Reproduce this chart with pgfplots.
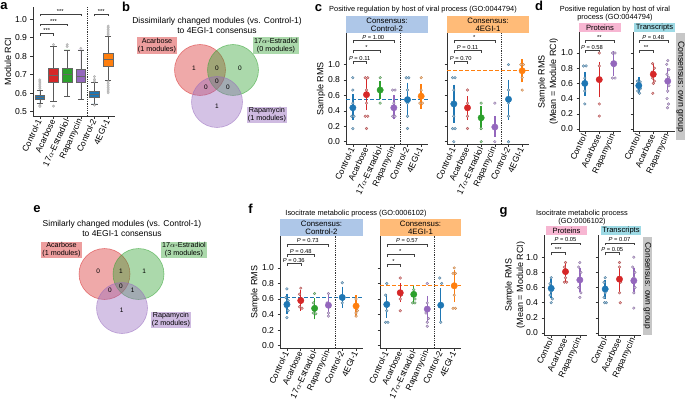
\documentclass[border=0pt]{standalone}
\usepackage{fontspec}
\setmainfont{Liberation Sans}
\usepackage{pgfplots}
\pgfplotsset{compat=1.18}
\usepgfplotslibrary{statistics}

\definecolor{cb}{HTML}{1F77B4}
\definecolor{cr}{HTML}{D62728}
\definecolor{cg}{HTML}{2CA02C}
\definecolor{cp}{HTML}{9467BD}
\definecolor{co}{HTML}{FF7F0E}
\definecolor{hblue}{HTML}{AEC7E8}
\definecolor{horange}{HTML}{FFBB78}
\definecolor{hpink}{HTML}{F7B6D2}
\definecolor{hcyan}{HTML}{9EDAE5}
\definecolor{hgray}{HTML}{C7C7C7}

\newcommand{\fsz}[2]{\fontsize{#1pt}{#2pt}\selectfont}
\newcommand{\pv}[1]{\textit{P} = #1}
\def\leg{0.035}

% jittered samples of one group
\newcommand{\pts}[2]{\addplot[only marks, mark=*, mark size=1.35pt,
  mark options={draw=#1!50!gray, fill=#1!40!white, line width=0.35pt}] coordinates {#2};}
% mean with confidence interval: colour, x, mean, plus, minus
\newcommand{\mci}[5]{\addplot[only marks, color=#1, mark=*, mark size=3.2pt,
  error bars/.cd, y dir=both, y explicit,
  error bar style={line width=1.4pt, #1},
  error mark options={line width=1.4pt, mark size=5.5pt, #1}]
  coordinates {(#2,#3) += (0,#4) -= (0,#5)};}
% significance bracket
\newcommand{\brk}[4]{%
  \draw[black!75, line width=0.5pt] (axis cs:#1,{#3-\leg}) -- (axis cs:#1,#3)
    -- (axis cs:#2,#3) -- (axis cs:#2,{#3-\leg});
  \node[font=\fsz{5.8}{6}, inner sep=0.6pt, anchor=south] at (axis cs:{0.5*(#1+#2)},#3) {#4};}

\pgfplotsset{
  panel/.style={
    scale only axis, anchor=south west, clip=false,
    axis lines=left, axis line style={-, line width=0.6pt, black!80},
    tick align=outside, major tick length=2.5pt,
    tick style={line width=0.6pt, black!80},
    ticklabel style={font=\fsz{8.6}{9}},
    /pgf/number format/assume math mode=true,
    yticklabel style={/pgf/number format/.cd, fixed, fixed zerofill, precision=1},
    xticklabel style={rotate=65, anchor=east, font=\fsz{8.5}{9}, inner sep=1.2pt},
  },
  rms/.style={panel, ytick={0,0.2,0.4,0.6,0.8,1}},
  six/.style={xmin=-0.5, xmax=5.5, xtick={0,1,2,3,4,5},
    xticklabels={Control-1,Acarbose,17$\alpha$-Estradiol,Rapamycin,Control-2,4EGI-1}},
  three/.style={xtick={0,1,2}, xticklabels={Control,Acarbose,Rapamycin}},
  bx/.style={draw=black!60, line width=0.6pt, solid, fill=#1,
    boxplot/draw direction=y,
    boxplot/every box/.style={draw=black!60, fill=#1},
    boxplot/every whisker/.style={draw=black!65},
    boxplot/every median/.style={draw=black!60, line width=0.8pt}},
}

\begin{document}
\begin{tikzpicture}
\path[use as bounding box] (0pt,0pt) rectangle (685pt,400pt);

% ---------------- a
\def\leg{0.014}
\begin{axis}[panel, six, at={(33pt,284pt)}, width=82pt, height=109pt,
  ymin=0.477, ymax=1.065, ytick={0.5,0.6,0.7,0.8,0.9,1.0}]
\addplot[black!80, densely dotted, line width=0.8pt] coordinates {(3.5,0.477)(3.5,1.065)};
\addplot[bx=cb, boxplot prepared={draw position=0, lower whisker=0.545, lower quartile=0.567,
  median=0.578, upper quartile=0.59, upper whisker=0.617, box extend=0.72, whisker extend=0.45}] coordinates {};
\addplot[bx=cr, boxplot prepared={draw position=1, lower whisker=0.554, lower quartile=0.657,
  median=0.695, upper quartile=0.735, upper whisker=0.851, box extend=0.72, whisker extend=0.45}] coordinates {};
\addplot[bx=cg, boxplot prepared={draw position=2, lower whisker=0.581, lower quartile=0.66,
  median=0.70, upper quartile=0.735, upper whisker=0.834, box extend=0.72, whisker extend=0.45}] coordinates {};
\addplot[bx=cp, boxplot prepared={draw position=3, lower whisker=0.567, lower quartile=0.657,
  median=0.692, upper quartile=0.728, upper whisker=0.834, box extend=0.72, whisker extend=0.45}] coordinates {};
\addplot[bx=cb, boxplot prepared={draw position=4, lower whisker=0.542, lower quartile=0.58,
  median=0.596, upper quartile=0.608, upper whisker=0.657, box extend=0.72, whisker extend=0.45}] coordinates {};
\addplot[bx=co, boxplot prepared={draw position=5, lower whisker=0.671, lower quartile=0.743,
  median=0.783, upper quartile=0.815, upper whisker=0.905, box extend=0.72, whisker extend=0.45}] coordinates {};
\addplot[only marks, mark=*, mark size=1.2pt, mark options={draw=black!30, fill=black!20}] coordinates {
  (0,0.625)(0,0.635)(0,0.645)(0,0.655)(0,0.665)(0,0.672)(0,0.535)(0,0.528)
  (1,0.862)(1,0.53)(2,0.862)(2,0.852)(3,0.842)
  (4,0.665)(4,0.675)(4,0.69)(4,0.535)
  (5,0.915)(5,0.925)(5,0.935)(5,0.945)(5,0.955)(5,0.962)
  (5,0.662)(5,0.652)(5,0.642)(5,0.632)(5,0.622)(5,0.612)(5,0.602)};
\brk{0}{1}{0.924}{***}
\brk{0}{2}{0.974}{***}
\brk{0}{3}{1.028}{***}
\brk{4}{5}{1.028}{***}
\end{axis}
\def\leg{0.035}

% ---------------- c left
\begin{axis}[rms, six, at={(346pt,256pt)}, width=82pt, height=111pt, ymin=-0.03, ymax=1.41]
\addplot[cb, line width=1.2pt, dash pattern=on 4pt off 2pt] coordinates {(-0.5,0.545)(5.5,0.545)};
\addplot[black!80, densely dotted, line width=0.8pt] coordinates {(3.5,-0.03)(3.5,1.41)};
\pts{cb}{(0,0.83)(0,0.67)(0,0.5)(-0.09,0.33)(0.09,0.33)(0,0.17)}
\mci{cb}{0}{0.44}{0.105}{0.09}
\pts{cr}{(0.91,0.83)(1.09,0.83)(1,0.67)(1,0.5)(0.91,0.33)(1.09,0.33)(1,0.17)}
\mci{cr}{1}{0.61}{0.13}{0.13}
\pts{cg}{(2,0.83)(1.91,0.67)(2.09,0.67)(2,0.5)}
\mci{cg}{2}{0.67}{0.05}{0.05}
\pts{cp}{(2.91,0.67)(3.09,0.67)(3,0.5)(2.91,0.33)(3.09,0.33)}
\mci{cp}{3}{0.44}{0.09}{0.08}
\pts{cb}{(3.91,0.83)(4.09,0.83)(4,0.67)(4,0.5)(4,0.33)(4,0.17)}
\mci{cb}{4}{0.545}{0.15}{0.165}
\pts{co}{(5,0.83)(5,0.67)(4.91,0.5)(5.09,0.5)}
\mci{co}{5}{0.59}{0.085}{0.09}
\brk{0}{1}{1.04}{\pv{0.11}}
\brk{0}{2}{1.18}{*}
\brk{0}{3}{1.31}{\pv{1.00}}
\end{axis}

% ---------------- c right
\begin{axis}[rms, six, at={(447pt,256pt)}, width=82pt, height=111pt, ymin=-0.03, ymax=1.41, yticklabels={}]
\addplot[co, line width=1.2pt, dash pattern=on 4pt off 2pt] coordinates {(-0.5,0.92)(5.5,0.92)};
\addplot[black!80, densely dotted, line width=0.8pt] coordinates {(3.5,-0.03)(3.5,1.41)};
\pts{cb}{(-0.09,0.83)(0.09,0.83)(0,0.67)(0,0.5)(0,0.33)(-0.09,0.17)(0.09,0.17)(0,0)}
\mci{cb}{0}{0.49}{0.18}{0.17}
\pts{cr}{(1,0.67)(1,0.5)(1,0.33)(1,0.17)}
\mci{cr}{1}{0.44}{0.08}{0.09}
\pts{cg}{(2,0.5)(2,0.33)(2,0.17)(2,0)}
\mci{cg}{2}{0.31}{0.08}{0.09}
\pts{cp}{(3,0.5)(3,0.17)(3,0)}
\mci{cp}{3}{0.19}{0.07}{0.06}
\pts{cb}{(4,1.0)(4,0.67)(4,0.5)(4,0.33)(4,0)}
\mci{cb}{4}{0.55}{0.18}{0.2}
\pts{co}{(4.91,1.0)(5.09,1.0)(5,0.83)(5,0.67)}
\mci{co}{5}{0.92}{0.08}{0.08}
\brk{0}{1}{1.04}{\pv{0.70}}
\brk{0}{2}{1.18}{\pv{0.11}}
\brk{0}{3}{1.31}{*}
\end{axis}

% ---------------- d proteins
\begin{axis}[rms, three, at={(579pt,269pt)}, width=42pt, height=99pt,
  xmin=-0.4, xmax=2.5, ymin=-0.026, ymax=1.276]
\pts{cb}{(-0.09,0.83)(0.09,0.83)(0,0.67)(0,0.5)(0,0.33)}
\mci{cb}{0}{0.6}{0.08}{0.09}
\pts{cr}{(1,1.0)(1,0.83)(1,0.67)(1,0.33)(1,0.17)}
\mci{cr}{1}{0.65}{0.16}{0.16}
\pts{cp}{(1.91,1.0)(2.09,1.0)(2,0.83)(1.91,0.67)(2.09,0.67)}
\mci{cp}{2}{0.86}{0.09}{0.09}
\brk{0}{1}{1.04}{\pv{0.58}}
\brk{0}{2}{1.17}{**}
\end{axis}

% ---------------- d transcripts
\begin{axis}[rms, three, at={(633pt,269pt)}, width=42pt, height=99pt,
  xmin=-0.4, xmax=2.5, ymin=-0.026, ymax=1.276, yticklabels={}]
\pts{cb}{(-0.1,0.63)(0.1,0.62)(-0.05,0.6)(0.08,0.58)(-0.1,0.57)(0,0.55)(0.1,0.53)(-0.07,0.5)(0.05,0.47)}
\mci{cb}{0}{0.57}{0.04}{0.04}
\pts{cr}{(0.95,0.86)(1.08,0.8)(0.92,0.75)(1.05,0.7)(0.95,0.67)(1.08,0.63)(1,0.6)(0.97,0.47)}
\mci{cr}{1}{0.72}{0.07}{0.07}
\pts{cp}{(2,0.9)(1.93,0.85)(2.08,0.78)(1.95,0.72)(2.05,0.68)(1.92,0.62)(2.08,0.57)(2,0.5)(1.95,0.4)(2.05,0.33)(1.98,0.28)}
\mci{cp}{2}{0.63}{0.1}{0.09}
\brk{0}{1}{1.04}{**}
\brk{0}{2}{1.17}{\pv{0.48}}
\end{axis}

% ---------------- f left
\begin{axis}[rms, six, at={(280pt,52pt)}, width=83pt, height=112pt, ymin=-0.03, ymax=1.41]
\addplot[cb, line width=1.2pt, dash pattern=on 4pt off 2pt] coordinates {(-0.5,0.62)(5.5,0.62)};
\addplot[black!80, densely dotted, line width=0.8pt] coordinates {(3.5,-0.03)(3.5,1.41)};
\pts{cb}{(0,0.73)(-0.09,0.62)(0.09,0.58)(0,0.55)(-0.09,0.5)(0.09,0.45)(0,0.36)}
\mci{cb}{0}{0.53}{0.07}{0.05}
\pts{cr}{(1,0.74)(0.91,0.66)(1.09,0.6)(1,0.55)(0.91,0.5)(1.09,0.48)}
\mci{cr}{1}{0.58}{0.06}{0.06}
\pts{cg}{(2,0.67)(1.91,0.55)(2.09,0.5)(2,0.45)(1.91,0.42)(2.09,0.41)}
\mci{cg}{2}{0.48}{0.06}{0.07}
\pts{cp}{(3,0.67)(2.91,0.55)(3.09,0.5)(3,0.42)(3,0.38)}
\mci{cp}{3}{0.52}{0.06}{0.07}
\pts{cb}{(4,0.81)(3.91,0.64)(4.09,0.6)(4,0.55)}
\mci{cb}{4}{0.62}{0.07}{0.06}
\pts{co}{(5,0.6)(4.91,0.52)(5.09,0.45)(5,0.42)(5,0.38)}
\mci{co}{5}{0.51}{0.07}{0.07}
\brk{0}{1}{1.06}{\pv{0.36}}
\brk{0}{2}{1.18}{\pv{0.48}}
\brk{0}{3}{1.31}{\pv{0.73}}
\end{axis}

% ---------------- f right
\begin{axis}[rms, six, at={(380pt,52pt)}, width=81pt, height=112pt, ymin=-0.03, ymax=1.41, yticklabels={}]
\addplot[co, line width=1.2pt, dash pattern=on 4pt off 2pt] coordinates {(-0.5,0.77)(5.5,0.77)};
\addplot[black!80, densely dotted, line width=0.8pt] coordinates {(3.5,-0.03)(3.5,1.41)};
\pts{cb}{(0,0.8)(-0.09,0.65)(0.09,0.55)(0,0.5)(0,0.45)(-0.09,0.3)(0.09,0.3)}
\mci{cb}{0}{0.53}{0.07}{0.1}
\pts{cr}{(1,0.87)(0.91,0.7)(1.09,0.65)(1,0.6)(1,0.45)}
\mci{cr}{1}{0.68}{0.05}{0.05}
\pts{cg}{(2,0.72)(1.91,0.65)(2.09,0.6)(1.91,0.55)(2.09,0.55)}
\mci{cg}{2}{0.66}{0.04}{0.05}
\pts{cp}{(3,0.8)(3,0.55)(2.91,0.42)(3.09,0.35)(3,0.3)(3,0.25)}
\mci{cp}{3}{0.47}{0.1}{0.1}
\pts{cb}{(3.93,0.87)(4.07,0.8)(4,0.3)}
\mci{cb}{4}{0.52}{0.15}{0.14}
\pts{co}{(5,1.0)(4.91,0.93)(5.09,0.93)(5,0.65)(4.91,0.48)(5.09,0.48)}
\mci{co}{5}{0.77}{0.13}{0.14}
\brk{0}{1}{1.05}{*}
\brk{0}{2}{1.18}{*}
\brk{0}{3}{1.31}{\pv{0.57}}
\end{axis}

% ---------------- g proteins
\begin{axis}[rms, three, at={(544pt,65pt)}, width=43pt, height=100pt,
  xmin=-0.5, xmax=2.5, ymin=-0.026, ymax=1.293]
\pts{cb}{(0,0.73)(-0.08,0.65)(0.08,0.6)(0,0.55)(-0.08,0.5)(0.08,0.45)(0,0.4)}
\mci{cb}{0}{0.59}{0.05}{0.06}
\pts{cr}{(1,0.93)(0.92,0.87)(1.08,0.8)(1,0.73)(0.92,0.67)(1.08,0.67)}
\mci{cr}{1}{0.81}{0.05}{0.06}
\pts{cp}{(2,0.93)(1.92,0.87)(2.08,0.8)(2,0.73)(1.92,0.6)(2.08,0.53)(2,0.47)}
\mci{cp}{2}{0.7}{0.08}{0.08}
\brk{0}{1}{1.06}{***}
\brk{0}{2}{1.19}{\pv{0.05}}
\end{axis}

% ---------------- g transcripts
\begin{axis}[rms, three, at={(598pt,65pt)}, width=43pt, height=100pt,
  xmin=-0.5, xmax=2.5, ymin=-0.026, ymax=1.293, yticklabels={}]
\pts{cb}{(0,0.73)(-0.08,0.67)(0.08,0.6)(0,0.53)(-0.08,0.47)(0.08,0.4)(-0.04,0.4)}
\mci{cb}{0}{0.58}{0.05}{0.06}
\pts{cr}{(1,0.93)(1,0.87)(0.92,0.73)(1.08,0.67)(1,0.53)(1.05,0.4)}
\mci{cr}{1}{0.71}{0.08}{0.1}
\pts{cp}{(2,1.0)(1.92,0.87)(2.08,0.8)(2,0.73)(1.92,0.67)(2.08,0.6)(2,0.53)(2,0.33)}
\mci{cp}{2}{0.69}{0.1}{0.1}
\brk{0}{1}{1.06}{\pv{0.05}}
\brk{0}{2}{1.19}{\pv{0.07}}
\end{axis}

% ---------------- Venn diagrams b and e
\begin{axis}[scale only axis, hide axis, at={(0pt,0pt)}, anchor=south west,
  width=685pt, height=400pt, xmin=0, xmax=685, ymin=0, ymax=400, clip=false]
\addplot[only marks, mark=*, mark size=25.5pt,
  mark options={draw=cr, fill=cr, fill opacity=0.4, draw opacity=0.55, line width=0.6pt}]
  coordinates {(200,330)(104.5,126)};
\addplot[only marks, mark=*, mark size=25.5pt,
  mark options={draw=cg, fill=cg, fill opacity=0.4, draw opacity=0.55, line width=0.6pt}]
  coordinates {(233,330)(138.5,126)};
\addplot[only marks, mark=*, mark size=25.5pt,
  mark options={draw=cp, fill=cp, fill opacity=0.4, draw opacity=0.55, line width=0.6pt}]
  coordinates {(217,298)(122,92)};
\end{axis}

% headers and side strips
\fill[hblue] (346pt,367pt) rectangle (428pt,384pt);
\node[font=\fsz{7.8}{8.3}, align=center] at (387pt,375.5pt) {Consensus:\\Control-2};
\fill[horange] (447pt,367pt) rectangle (529pt,384pt);
\node[font=\fsz{7.8}{8.3}, align=center] at (488pt,375.5pt) {Consensus:\\4EGI-1};
\fill[hblue] (280pt,164pt) rectangle (363pt,181pt);
\node[font=\fsz{7.8}{8.3}, align=center] at (321.5pt,172.5pt) {Consensus:\\Control-2};
\fill[horange] (380pt,164pt) rectangle (461pt,181pt);
\node[font=\fsz{7.8}{8.3}, align=center] at (420.5pt,172.5pt) {Consensus:\\4EGI-1};
\fill[hpink] (579pt,368pt) rectangle (621pt,377pt);
\node[font=\fsz{7.6}{8}, inner sep=0pt] at (600pt,372.5pt) {Proteins};
\fill[hcyan] (634pt,368pt) rectangle (675pt,377pt);
\node[font=\fsz{7.6}{8}, inner sep=0pt] at (654.5pt,372.5pt) {Transcripts};
\fill[hpink] (546pt,165pt) rectangle (587pt,174pt);
\node[font=\fsz{7.6}{8}, inner sep=0pt] at (566.5pt,169.5pt) {Proteins};
\fill[hcyan] (601pt,165pt) rectangle (641pt,174pt);
\node[font=\fsz{7.6}{8}, inner sep=0pt] at (621pt,169.5pt) {Transcripts};
\fill[hgray] (676pt,260pt) rectangle (685pt,367pt);
\node[font=\fsz{8.8}{9}, rotate=-90, inner sep=0pt] at (680.5pt,313.5pt) {Consensus: own group};
\fill[hgray] (643pt,65pt) rectangle (652pt,163pt);
\node[font=\fsz{8.4}{9}, rotate=-90, inner sep=0pt] at (647.5pt,114pt) {Consensus: own group};

% titles
\node[font=\fsz{8.5}{9.5}, align=center] at (217pt,374.5pt)
  {Dissimilarly changed modules (vs. Control-1)\\to 4EGI-1 consensus};
\node[font=\fsz{8.5}{9.5}, align=center] at (122pt,171.3pt)
  {Similarly changed modules (vs. Control-1)\\to 4EGI-1 consensus};
\node[font=\fsz{7.4}{8}] at (423pt,390pt) {Positive regulation by host of viral process (GO:0044794)};
\node[font=\fsz{7.4}{8}, align=center] at (615pt,386pt) {Positive regulation by host of viral\\process (GO:0044794)};
\node[font=\fsz{7.4}{8}] at (356pt,186pt) {Isocitrate metabolic process (GO:0006102)};
\node[font=\fsz{7.4}{8}, align=center] at (582pt,182pt) {Isocitrate metabolic process\\(GO:0006102)};

% y labels
\node[font=\fsz{9}{10}, rotate=90] at (8pt,338.5pt) {Module RCI};
\node[font=\fsz{9}{10}, rotate=90] at (321pt,311.5pt) {Sample RMS};
\node[font=\fsz{9}{10}, rotate=90] at (255pt,108pt) {Sample RMS};
\node[font=\fsz{9}{11.5}, rotate=90, align=center] at (548pt,318.5pt) {Sample RMS\\(Mean = Module RCI)};
\node[font=\fsz{9}{11.5}, rotate=90, align=center] at (515pt,115pt) {Sample RMS\\(Mean = Module RCI)};

% panel letters
\foreach \l/\x/\y in {a/4/394, b/126/393, c/318.5/391.5, d/539/394, e/37/191, f/250.5/191, g/503.5/188}
  \node[font=\bfseries\fsz{13}{13}, inner sep=0pt] at (\x pt,\y pt) {\l};

% Venn labels and counts
\node[fill=cr!45, inner sep=1pt, align=center, font=\fsz{7.2}{8}] at (157pt,354.5pt) {Acarbose\\(1 modules)};
\node[fill=cg!40, inner sep=1pt, align=center, font=\fsz{7.2}{8}] at (276pt,354.5pt) {17$\alpha$-Estradiol\\(0 modules)};
\node[fill=cp!45, inner sep=1pt, align=center, font=\fsz{7.2}{8}] at (267pt,285pt) {Rapamycin\\(1 modules)};
\node[fill=cr!45, inner sep=1pt, align=center, font=\fsz{7.2}{8}] at (61.5pt,150pt) {Acarbose\\(1 modules)};
\node[fill=cg!40, inner sep=1pt, align=center, font=\fsz{7.2}{8}] at (184pt,150pt) {17$\alpha$-Estradiol\\(3 modules)};
\node[fill=cp!45, inner sep=1pt, align=center, font=\fsz{7.2}{8}] at (171pt,80pt) {Rapamycin\\(2 modules)};
\foreach \t/\x/\y in {1/194/332, 0/217/332, 0/240/332, 0/217/319, 0/206/313, 0/228/313, 1/217/294,
  0/98.3/128.3, 1/121/128.3, 1/144.3/128.3, 0/121/113.3, 0/110/109.3, 1/132.7/109.3, 1/121.7/90}
  \node[font=\fsz{6.5}{7}, inner sep=0pt] at (\x pt,\y pt) {\t};
\end{tikzpicture}
\end{document}
